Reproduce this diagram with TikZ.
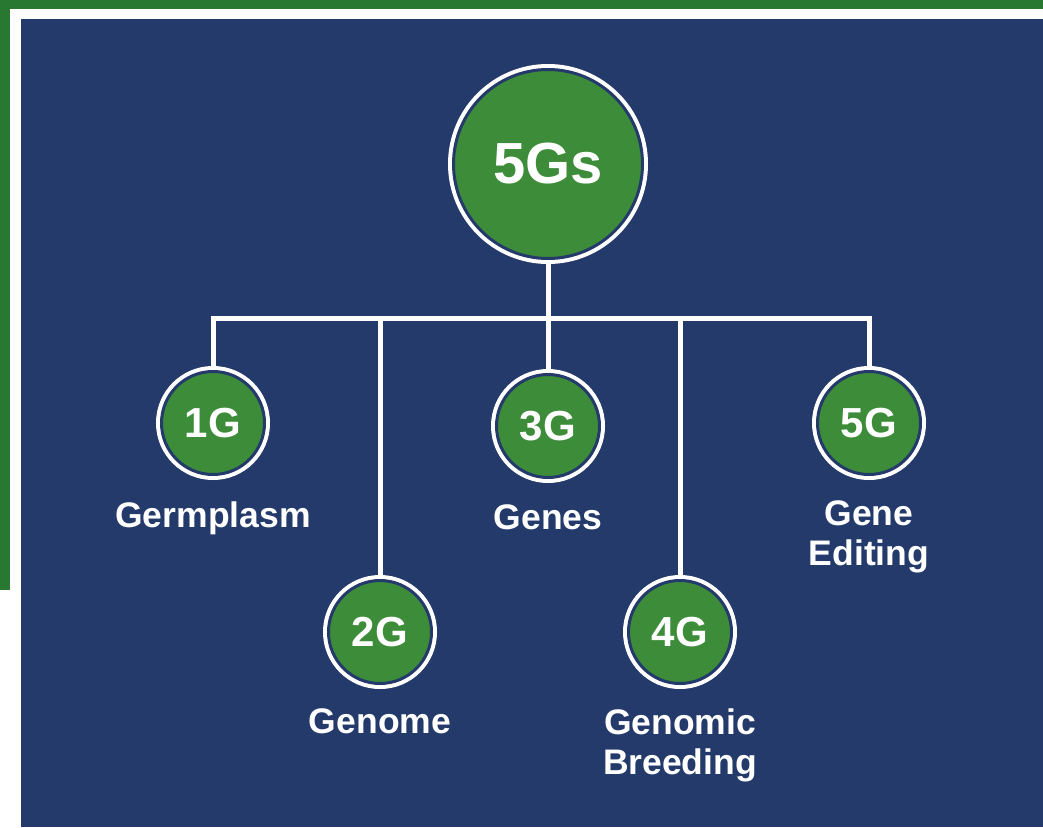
\documentclass[tikz,border=0pt]{standalone}
\usepackage{fontspec}
\setmainfont{Liberation Sans}
\usetikzlibrary{positioning}
\definecolor{navy}{RGB}{36,58,107}
\definecolor{gsgreen}{RGB}{61,140,57}
\definecolor{leaf}{RGB}{40,120,50}

\begin{document}
\begin{tikzpicture}[x=1pt, y=-1pt]
  \tikzset{
    link/.style={white, line width=5pt, shorten <=3pt},
    gnode/.style={circle, fill=gsgreen, draw=navy, line width=3pt,
      inner sep=0pt, outer sep=0pt, minimum size=103pt,
      preaction={draw=white, line width=11pt},
      text=white, font={\fontsize{42}{42}\selectfont\bfseries}},
    bignode/.style={gnode, minimum size=189pt,
      font={\fontsize{58}{58}\selectfont\bfseries}},
    glabel/.style={text=white, align=center, inner sep=0pt,
      font={\fontsize{35.5}{40}\selectfont\bfseries}},
  }
  \useasboundingbox (0,0) rectangle (1043,827);

  % photo edge, white frame and panel
  \fill[white] (0,0) rectangle (1043,827);
  \fill[leaf] (0,0) rectangle (1043,9);
  \fill[leaf] (0,0) rectangle (10,590);
  \fill[navy] (21,19) rectangle (1043,827);

  % circles
  \node[bignode] (g5s) at (548,164) {5Gs};
  \foreach \name/\x/\y/\txt in {g1/213/423/1G, g2/380/632/2G, g3/548/426/3G,
                                g4/680/632/4G, g5/869/423/5G} {
    \node[gnode] (\name) at (\x,\y) {\txt};
  }

  % labels
  \node[glabel, below=27pt of g1] (l1) {Germplasm};
  \node[glabel, below=25pt of g2] (l2) {Genome};
  \node[glabel, below=27pt of g3] (l3) {Genes};
  \node[glabel, below=25pt of g4] (l4) {Genomic\\Breeding};
  \node[glabel, below=26pt of g5] (l5) {Gene\\Editing};

  % tree connectors
  \coordinate (hub) at (548,318);
  \draw[link] (g5s.south) -- (hub);
  \draw[link] (g1.north) |- (hub);
  \draw[link] (g5.north) |- (hub);
  \foreach \name in {g2,g3,g4} {
    \draw[link] (\name.north) -- (\name.north |- hub);
  }
\end{tikzpicture}
\end{document}
